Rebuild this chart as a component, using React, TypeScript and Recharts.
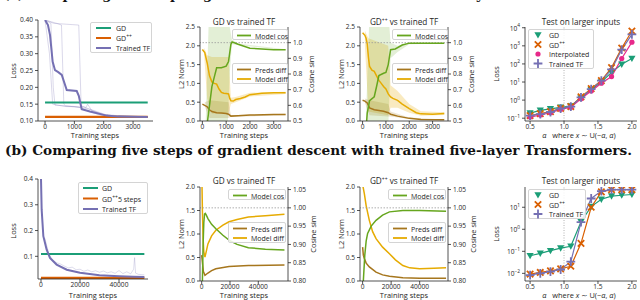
import React from "react";
import { ComposedChart, Line, Area, XAxis, YAxis, ReferenceLine } from "recharts";

const FONT = "'Open Sans', 'DejaVu Sans', sans-serif";
const INK = "#262626";
const C_GD = "#1b9e77";
const C_GDPP = "#d95f02";
const C_TF = "#7570b3";
const C_INT = "#e7298a";
const C_COS = "#66a61e";
const C_MDIFF = "#e6ab02";
const C_PDIFF = "#a6761d";

// ---------- (a) one step GD vs one-layer TF: loss ----------
const lineStepsA = [0, 3500];
const gdLossA = [0.155, 0.155];
const gdppLossA = [0.112, 0.112];
const tfStepsA = [0, 100, 170, 260, 340, 450, 570, 740, 1080, 1150, 1250, 1530, 2100, 2500, 3500];
const tfLossA = [0.4, 0.385, 0.355, 0.276, 0.251, 0.245, 0.237, 0.192, 0.189, 0.175, 0.135, 0.128, 0.116, 0.113, 0.112];
const run1Steps = [0, 200, 280, 340, 1000, 1500, 2000, 3500];
const run1Loss = [0.4, 0.39, 0.2, 0.147, 0.143, 0.135, 0.118, 0.112];
const run2Steps = [0, 400, 560, 640, 700, 1200, 1500, 2000, 3500];
const run2Loss = [0.4, 0.39, 0.385, 0.15, 0.145, 0.14, 0.128, 0.115, 0.112];
const run3Steps = [0, 300, 1150, 1230, 1400, 1450, 1600, 2000, 3500];
const run3Loss = [0.4, 0.39, 0.385, 0.145, 0.14, 0.15, 0.13, 0.118, 0.112];
const run4Steps = [0, 150, 260, 700, 1300, 1700, 2200, 3500];
const run4Loss = [0.4, 0.3, 0.15, 0.143, 0.142, 0.13, 0.115, 0.112];

// GD vs trained TF (a)
const mdiffStepsG = [0, 100, 200, 300, 400, 500, 600, 700, 800, 900, 1000, 1100, 1150, 1200, 1300, 1400, 1600, 1800, 2000, 2500, 3000, 3500];
const mdiffG = [1.9, 1.82, 1.55, 1.2, 1.04, 1.0, 0.98, 0.85, 0.76, 0.74, 0.73, 0.72, 0.6, 0.54, 0.53, 0.57, 0.6, 0.64, 0.7, 0.74, 0.75, 0.75];
const pdiffStepsG = [0, 200, 300, 400, 600, 800, 1000, 1100, 1200, 1500, 2000, 3000, 3500];
const pdiffG = [0.45, 0.38, 0.3, 0.25, 0.22, 0.21, 0.2, 0.18, 0.13, 0.14, 0.16, 0.17, 0.17];
const cosStepsG = [0, 200, 300, 400, 500, 600, 800, 1000, 1100, 1200, 1250, 1500, 2000, 2500, 3000, 3500];
const cosG = [0.3, 0.48, 0.6, 0.72, 0.78, 0.84, 0.84, 0.85, 0.88, 0.99, 1.005, 0.99, 0.965, 0.96, 0.955, 0.955];
const cosBandStepsG = [140, 280, 1060, 1150, 1240, 1500, 3500];
const cosLoG = [0.45, 0.45, 0.45, 0.8, 0.99, 0.985, 0.952];
const cosHiG = [0.5, 1.2, 1.2, 1.1, 1.02, 0.995, 0.958];
const mdiffBandStepsG = [80, 200, 400, 1100, 1200, 1400, 2000, 3500];
const mdiffLoG = [1.7, 0.6, 0.2, 0.2, 0.45, 0.5, 0.65, 0.72];
const mdiffHiG = [1.95, 1.75, 1.7, 1.7, 0.62, 0.64, 0.75, 0.78];
const pdiffBandStepsG = [100, 300, 1100, 1200, 3500];
const pdiffLoG = [0.38, 0.08, 0.08, 0.11, 0.15];
const pdiffHiG = [0.5, 0.55, 0.5, 0.15, 0.19];

// GD++ vs trained TF (a)
const mdiffStepsP = [0, 100, 150, 200, 250, 300, 400, 500, 600, 700, 800, 900, 1000, 1100, 1200, 1300, 1500, 1700, 2000, 2300, 2500, 3000, 3500];
const mdiffP = [2.35, 2.28, 2.2, 2.05, 1.7, 1.45, 1.35, 1.32, 1.2, 1.08, 1.0, 0.92, 0.85, 0.72, 0.64, 0.6, 0.55, 0.45, 0.33, 0.22, 0.19, 0.18, 0.2];
const pdiffStepsP = [0, 100, 200, 300, 500, 700, 900, 1100, 1200, 1500, 2000, 2500, 3500];
const pdiffP = [0.55, 0.53, 0.48, 0.35, 0.3, 0.28, 0.26, 0.22, 0.18, 0.13, 0.07, 0.04, 0.035];
const cosStepsP = [0, 150, 200, 300, 500, 600, 700, 900, 1000, 1100, 1200, 1400, 1700, 2000, 3500];
const cosP = [0.3, 0.45, 0.55, 0.63, 0.655, 0.72, 0.79, 0.805, 0.81, 0.86, 0.955, 0.96, 0.985, 0.997, 0.997];
const cosBandStepsP = [150, 300, 1100, 1200, 1500, 2000, 3500];
const cosLoP = [0.45, 0.45, 0.45, 0.9, 0.94, 0.99, 0.994];
const cosHiP = [0.55, 1.2, 1.2, 1.0, 0.98, 1.0, 1.0];
const mdiffBandStepsP = [100, 250, 1100, 1200, 1500, 2000, 2500, 3500];
const mdiffLoP = [2.0, 0.25, 0.15, 0.35, 0.35, 0.22, 0.14, 0.16];
const mdiffHiP = [2.4, 2.2, 2.0, 0.95, 0.8, 0.45, 0.26, 0.23];
const pdiffBandStepsP = [100, 300, 1100, 1200, 2000, 3500];
const pdiffLoP = [0.48, 0.15, 0.12, 0.12, 0.05, 0.03];
const pdiffHiP = [0.6, 0.55, 0.45, 0.25, 0.09, 0.04];

// test on larger inputs
const alphas = [0.5, 0.65, 0.8, 0.95, 1.1, 1.25, 1.4, 1.55, 1.7, 1.85, 2.0];
const gdTestA = [0.19, 0.27, 0.33, 0.4, 0.47, 1.3, 3.7, 10, 34, 95, 200];
const gdppTestA = [0.14, 0.18, 0.23, 0.35, 0.44, 1.5, 4.3, 12, 63, 760, 6600];
const interpTestA = [0.115, 0.15, 0.2, 0.31, 0.4, 1.2, 3.2, 8.6, 20, 200, 1600];
const tfTestA = [0.14, 0.17, 0.22, 0.34, 0.44, 1.4, 4.0, 12, 50, 620, 4300];

// ---------- (b) five steps GD vs five-layer TF ----------
const lineStepsB = [0, 53000];
const gdLossB = [0.109, 0.109];
const gdppLossB = [0.016, 0.016];
const tfStepsB = [0, 340, 1200, 2900, 4600, 8000, 13200, 20000, 30000, 40000, 47300, 53000];
const tfLossB = [0.4, 0.281, 0.178, 0.126, 0.094, 0.068, 0.048, 0.036, 0.027, 0.023, 0.021, 0.02];
const noiseStepsB = [2000, 4000, 6000, 8000, 10000, 12000, 14000, 16000, 18000, 20000, 22000, 24000, 26000, 28000, 30000, 32000, 34000, 36000, 38000, 40000, 42000, 44000, 46000, 47500, 48000, 48500, 50000, 53000];
const noiseLossB = [0.17, 0.11, 0.085, 0.075, 0.07, 0.062, 0.055, 0.058, 0.048, 0.05, 0.042, 0.047, 0.04, 0.044, 0.038, 0.043, 0.036, 0.04, 0.034, 0.045, 0.033, 0.04, 0.032, 0.05, 0.095, 0.035, 0.03, 0.028];

const mdiffStepsG5 = [0, 500, 1000, 1500, 2300, 3000, 4400, 7000, 10000, 15000, 19300, 25000, 33000, 45000, 58500];
const mdiffG5 = [2.4, 1.5, 0.9, 0.62, 0.51, 0.6, 0.79, 0.96, 1.08, 1.19, 1.26, 1.31, 1.36, 1.39, 1.42];
const pdiffStepsG5 = [0, 500, 1200, 2300, 4400, 7000, 10000, 19300, 33000, 58500];
const pdiffG5 = [0.55, 0.4, 0.2, 0.12, 0.17, 0.22, 0.26, 0.31, 0.33, 0.34];
const cosStepsG5 = [0, 500, 1000, 1500, 2000, 2500, 3000, 4500, 7000, 10000, 15000, 20000, 25000, 33000, 45000, 58500];
const cosG5 = [0.7, 0.8, 0.9, 0.96, 0.983, 0.985, 0.982, 0.97, 0.955, 0.943, 0.925, 0.91, 0.9, 0.891, 0.887, 0.885];

const mdiffStepsP5 = [0, 1200, 2500, 4700, 7000, 9400, 14000, 18800, 23000, 28200, 33000, 40000, 50000, 58500];
const mdiffP5 = [2.05, 1.86, 1.6, 1.29, 1.05, 0.9, 0.72, 0.58, 0.45, 0.33, 0.28, 0.26, 0.27, 0.28];
const pdiffStepsP5 = [0, 500, 1200, 2500, 4700, 9400, 14000, 18800, 28200, 40000, 58500];
const pdiffP5 = [0.72, 0.55, 0.48, 0.38, 0.3, 0.19, 0.13, 0.1, 0.07, 0.06, 0.06];
const cosStepsP5 = [0, 500, 1500, 2500, 3500, 6000, 9400, 14000, 18800, 28200, 40000, 58500];
const cosP5 = [0.75, 0.8, 0.87, 0.91, 0.93, 0.95, 0.966, 0.98, 0.989, 0.993, 0.993, 0.991];

const gdTestB = [0.063, 0.081, 0.107, 0.14, 0.17, 2.2, 10.7, 23, 32, 35, 38];
const gdppTestB = [0.0093, 0.011, 0.013, 0.016, 0.021, 0.23, 10, 50, 63, 63, 63];
const tfTestB = [0.0084, 0.01, 0.012, 0.015, 0.034, 2.1, 25, 54, 63, 63, 63];

const pts = (xs: number[], ys: number[]) => xs.map((x, i) => ({ x, y: ys[i] }));
const band = (xs: number[], lo: number[], hi: number[]) => xs.map((x, i) => ({ x, y: [lo[i], hi[i]] }));

type Rect = { l: number; t: number; r: number; b: number };
const LW = 30;
const RW = 22;
const XH = 14;
const MT = 4;

const P1T: Rect = { l: 38, t: 20, r: 153, b: 121 };
const P2T: Rect = { l: 200, t: 27, r: 288, b: 121 };
const P3T: Rect = { l: 360, t: 27, r: 448, b: 121 };
const P4T: Rect = { l: 525, t: 27, r: 637, b: 121 };
const P1B: Rect = { l: 38, t: 179, r: 148, b: 279 };
const P2B: Rect = { l: 200, t: 187, r: 288, b: 281 };
const P3B: Rect = { l: 360, t: 187, r: 448, b: 281 };
const P4B: Rect = { l: 525, t: 187, r: 637, b: 281 };

const AX = { stroke: INK, strokeWidth: 0.8 };
const TICK = { fontSize: 6.6, fill: INK, fontFamily: FONT };

function Frame({ rect, twin, children }: { rect: Rect; twin?: boolean; children: React.ReactNode }) {
  const rw = twin ? RW : 3;
  const width = rect.r - rect.l + LW + rw;
  const height = rect.b - rect.t + MT + XH;
  return (
    <div style={{ position: "absolute", left: rect.l - LW, top: rect.t - MT }}>
      <ComposedChart width={width} height={height} margin={{ top: MT, right: twin ? 0 : rw, bottom: 0, left: 0 }}>
        {children}
      </ComposedChart>
    </div>
  );
}

function Txt({ x, y, rot, size = 7.4, children }: { x: number; y: number; rot?: number; size?: number; children: React.ReactNode }) {
  return (
    <div
      style={{
        position: "absolute",
        left: x,
        top: y,
        transform: `translate(-50%, -50%)${rot ? ` rotate(${rot}deg)` : ""}`,
        fontSize: size,
        lineHeight: 1,
        whiteSpace: "nowrap",
      }}
    >
      {children}
    </div>
  );
}

const PP = () => <span style={{ fontSize: 5, position: "relative", top: -3 }}>++</span>;

type Mark = "line" | "tri" | "x" | "dot" | "plus";

function shape(kind: Mark, cx: number, cy: number, color: string, key?: any) {
  if (kind === "tri") return <path key={key} d={`M${cx - 3.6},${cy - 2.8}L${cx + 3.6},${cy - 2.8}L${cx},${cy + 3.6}Z`} fill={color} />;
  if (kind === "x") return <path key={key} d={`M${cx - 3.2},${cy - 3.2}L${cx + 3.2},${cy + 3.2}M${cx - 3.2},${cy + 3.2}L${cx + 3.2},${cy - 3.2}`} stroke={color} strokeWidth={1.8} />;
  if (kind === "plus") return <path key={key} d={`M${cx - 4.4},${cy}L${cx + 4.4},${cy}M${cx},${cy - 4.4}L${cx},${cy + 4.4}`} stroke={color} strokeWidth={1.8} />;
  return <circle key={key} cx={cx} cy={cy} r={2.6} fill={color} />;
}

const dotOf = (kind: Mark, color: string) => (p: any) => shape(kind, p.cx, p.cy, color, `d${p.index}`);

type Item = { label: React.ReactNode; color: string; mark: Mark; lw?: number };

function Leg({ x, y, w, h, items, rows, mx, tx }: { x: number; y: number; w: number; h: number; items: Item[]; rows: number[]; mx: [number, number]; tx: number }) {
  return (
    <div style={{ position: "absolute", left: x, top: y, width: w, height: h, border: "0.8px solid #d4d4d4", borderRadius: 2, background: "rgba(255,255,255,0.85)", boxSizing: "border-box" }}>
      <svg width={w} height={h} style={{ position: "absolute", left: 0, top: 0 }}>
        {items.map((it, i) =>
          it.mark === "line" ? (
            <line key={i} x1={mx[0]} x2={mx[1]} y1={rows[i]} y2={rows[i]} stroke={it.color} strokeWidth={it.lw ?? 2} />
          ) : (
            shape(it.mark, (mx[0] + mx[1]) / 2, rows[i], it.color, i)
          )
        )}
      </svg>
      {items.map((it, i) => (
        <div key={i} style={{ position: "absolute", left: tx, top: rows[i], transform: "translateY(-50%)", fontSize: 7, lineHeight: 1, whiteSpace: "nowrap" }}>
          {it.label}
        </div>
      ))}
    </div>
  );
}

const LogTick = (props: any) => {
  const { x, y, payload } = props;
  const e = Math.round(Math.log10(payload.value));
  return (
    <text x={x} y={y} dy={3} textAnchor="end" fontSize={6.6} fill={INK} fontFamily={FONT}>
      10
      <tspan dy={-3.5} fontSize={4.8}>
        {e < 0 ? `\u2212${-e}` : `${e}`}
      </tspan>
    </text>
  );
};

const f1 = (v: number) => v.toFixed(1);
const f2 = (v: number) => v.toFixed(2);
const xAxisProps = { type: "number" as const, dataKey: "x", allowDataOverflow: true, height: XH, tick: TICK, tickSize: 3, tickMargin: 0, axisLine: AX, tickLine: AX, interval: 0 as const };
const yAxisProps = { type: "number" as const, allowDataOverflow: true, tick: TICK, tickSize: 3, tickMargin: 2, axisLine: AX, tickLine: AX, interval: 0 as const };

function twinChildren(opts: {
  xDomain: [number, number];
  xTicks: number[];
  lDomain: [number, number];
  lTicks: number[];
  rDomain: [number, number];
  rTicks: number[];
  rFmt: (v: number) => string;
  mdiff: any[];
  pdiff: any[];
  cos: any[];
  mBand?: any[];
  pBand?: any[];
  cBand?: any[];
}) {
  const els: React.ReactNode[] = [
    <XAxis key="x" {...xAxisProps} domain={opts.xDomain} ticks={opts.xTicks} />,
    <YAxis key="yl" yAxisId="l" {...yAxisProps} width={LW} domain={opts.lDomain} ticks={opts.lTicks} tickFormatter={f1} />,
    <YAxis key="yr" yAxisId="r" orientation="right" {...yAxisProps} width={RW} domain={opts.rDomain} ticks={opts.rTicks} tickFormatter={opts.rFmt} />,
  ];
  if (opts.mBand) els.push(<Area key="mb" yAxisId="l" data={opts.mBand} dataKey="y" type="linear" stroke="none" fill={C_MDIFF} fillOpacity={0.25} isAnimationActive={false} />);
  if (opts.pBand) els.push(<Area key="pb" yAxisId="l" data={opts.pBand} dataKey="y" type="linear" stroke="none" fill={C_PDIFF} fillOpacity={0.2} isAnimationActive={false} />);
  els.push(<Line key="pd" yAxisId="l" data={opts.pdiff} dataKey="y" stroke={C_PDIFF} strokeWidth={1.5} dot={false} isAnimationActive={false} />);
  els.push(<Line key="md" yAxisId="l" data={opts.mdiff} dataKey="y" stroke={C_MDIFF} strokeWidth={1.5} dot={false} isAnimationActive={false} />);
  if (opts.cBand) els.push(<Area key="cb" yAxisId="r" data={opts.cBand} dataKey="y" type="linear" stroke="none" fill={C_COS} fillOpacity={0.18} isAnimationActive={false} />);
  els.push(<ReferenceLine key="one" yAxisId="r" y={1} stroke="#9a9a9a" strokeWidth={0.8} strokeDasharray="1.5 1.5" />);
  els.push(<Line key="cs" yAxisId="r" data={opts.cos} dataKey="y" stroke={C_COS} strokeWidth={1.5} dot={false} isAnimationActive={false} />);
  return els;
}

const diffItems: Item[] = [
  { label: "Preds diff", color: C_PDIFF, mark: "line", lw: 1.8 },
  { label: "Model diff", color: C_MDIFF, mark: "line", lw: 1.8 },
];
const cosItems: Item[] = [{ label: "Model cos", color: C_COS, mark: "line", lw: 1.8 }];

const TS = 8.2; // title size

export default function App() {
  const stepTicksA = [0, 1000, 2000, 3000];
  const stepTicksB = [0, 20000, 40000];
  return (
    <div style={{ position: "fixed", left: 0, top: 0, width: 640, height: 300, background: "#fff", overflow: "hidden", fontFamily: FONT, color: INK }}>
      <svg width={640} height={300} style={{ position: "absolute", left: 0, top: 0 }}>
        <text x={3} y={-1} fontFamily="'DejaVu Serif', serif" fontWeight="bold" fontSize={12.5} fill="#111" textLength={606} lengthAdjust="spacingAndGlyphs">
          (a) Comparing one step of gradient descent with trained one-layer Transformers.
        </text>
        <text x={5} y={155} fontFamily="'DejaVu Serif', serif" fontWeight="bold" fontSize={12.5} fill="#111" textLength={627} lengthAdjust="spacingAndGlyphs">
          (b) Comparing five steps of gradient descent with trained five-layer Transformers.
        </text>
      </svg>

      {/* ---------- row (a) ---------- */}
      <Frame rect={P1T}>
        <XAxis {...xAxisProps} domain={[-240, 3680]} ticks={stepTicksA} />
        <YAxis {...yAxisProps} width={LW} domain={[0.1, 0.4]} ticks={[0.1, 0.15, 0.2, 0.25, 0.3, 0.35, 0.4]} tickFormatter={f2} />
        <Line data={pts(run1Steps, run1Loss)} dataKey="y" stroke={C_TF} strokeOpacity={0.3} strokeWidth={0.9} dot={false} isAnimationActive={false} />
        <Line data={pts(run2Steps, run2Loss)} dataKey="y" stroke={C_TF} strokeOpacity={0.3} strokeWidth={0.9} dot={false} isAnimationActive={false} />
        <Line data={pts(run3Steps, run3Loss)} dataKey="y" stroke={C_TF} strokeOpacity={0.3} strokeWidth={0.9} dot={false} isAnimationActive={false} />
        <Line data={pts(run4Steps, run4Loss)} dataKey="y" stroke={C_TF} strokeOpacity={0.3} strokeWidth={0.9} dot={false} isAnimationActive={false} />
        <Line data={pts(lineStepsA, gdLossA)} dataKey="y" stroke={C_GD} strokeWidth={2} dot={false} isAnimationActive={false} />
        <Line data={pts(lineStepsA, gdppLossA)} dataKey="y" stroke={C_GDPP} strokeWidth={2.2} dot={false} isAnimationActive={false} />
        <Line data={pts(tfStepsA, tfLossA)} dataKey="y" stroke={C_TF} strokeWidth={2} dot={false} isAnimationActive={false} />
      </Frame>
      <Txt x={14} y={71} rot={-90}>Loss</Txt>
      <Txt x={95} y={136}>Training steps</Txt>
      <Leg
        x={90}
        y={22}
        w={62}
        h={31}
        rows={[5, 15, 25]}
        mx={[5, 20]}
        tx={25}
        items={[
          { label: "GD", color: C_GD, mark: "line" },
          { label: <>GD<PP /></>, color: C_GDPP, mark: "line" },
          { label: "Trained TF", color: C_TF, mark: "line" },
        ]}
      />

      <Frame rect={P2T} twin>
        {twinChildren({
          xDomain: [-100, 3600],
          xTicks: stepTicksA,
          lDomain: [0, 2.5],
          lTicks: [0, 0.5, 1, 1.5, 2, 2.5],
          rDomain: [0.5, 1.1],
          rTicks: [0.5, 0.6, 0.7, 0.8, 0.9, 1.0],
          rFmt: f1,
          mdiff: pts(mdiffStepsG, mdiffG),
          pdiff: pts(pdiffStepsG, pdiffG),
          cos: pts(cosStepsG, cosG),
          mBand: band(mdiffBandStepsG, mdiffLoG, mdiffHiG),
          pBand: band(pdiffBandStepsG, pdiffLoG, pdiffHiG),
          cBand: band(cosBandStepsG, cosLoG, cosHiG),
        })}
      </Frame>
      <Txt x={244} y={21.5} size={TS}>GD vs trained TF</Txt>
      <Txt x={182} y={74} rot={-90}>L2 Norm</Txt>
      <Txt x={312} y={74} rot={-90}>Cosine sim</Txt>
      <Txt x={244} y={136}>Training steps</Txt>
      <Leg x={232} y={29} w={56} h={11} rows={[5.5]} mx={[4, 18]} tx={22} items={cosItems} />
      <Leg x={232} y={63} w={56} h={21} rows={[5.5, 15]} mx={[4, 18]} tx={22} items={diffItems} />

      <Frame rect={P3T} twin>
        {twinChildren({
          xDomain: [-110, 3660],
          xTicks: stepTicksA,
          lDomain: [0, 2.5],
          lTicks: [0, 0.5, 1, 1.5, 2, 2.5],
          rDomain: [0.5, 1.1],
          rTicks: [0.5, 0.6, 0.7, 0.8, 0.9, 1.0],
          rFmt: f1,
          mdiff: pts(mdiffStepsP, mdiffP),
          pdiff: pts(pdiffStepsP, pdiffP),
          cos: pts(cosStepsP, cosP),
          mBand: band(mdiffBandStepsP, mdiffLoP, mdiffHiP),
          pBand: band(pdiffBandStepsP, pdiffLoP, pdiffHiP),
          cBand: band(cosBandStepsP, cosLoP, cosHiP),
        })}
      </Frame>
      <Txt x={404} y={21.5} size={TS}>GD<PP /> vs trained TF</Txt>
      <Txt x={342} y={74} rot={-90}>L2 Norm</Txt>
      <Txt x={472} y={74} rot={-90}>Cosine sim</Txt>
      <Txt x={404} y={136}>Training steps</Txt>
      <Leg x={392} y={29} w={56} h={11} rows={[5.5]} mx={[4, 18]} tx={22} items={cosItems} />
      <Leg x={392} y={63} w={56} h={21} rows={[5.5, 15]} mx={[4, 18]} tx={22} items={diffItems} />

      <Frame rect={P4T}>
        <XAxis {...xAxisProps} domain={[0.425, 2.075]} ticks={[0.5, 1, 1.5, 2]} tickFormatter={f1} />
        <YAxis {...yAxisProps} width={LW} scale="log" domain={[0.07, 11000]} ticks={[0.1, 1, 10, 100, 1000, 10000]} tick={<LogTick />} />
        <ReferenceLine x={1} stroke="#a0a0a0" strokeWidth={0.8} strokeDasharray="1 1.5" />
        <Line data={pts(alphas, gdTestA)} dataKey="y" stroke={C_GD} strokeWidth={1.2} dot={dotOf("tri", C_GD)} isAnimationActive={false} />
        <Line data={pts(alphas, gdppTestA)} dataKey="y" stroke={C_GDPP} strokeWidth={1.2} dot={dotOf("x", C_GDPP)} isAnimationActive={false} />
        <Line data={pts(alphas, interpTestA)} dataKey="y" stroke={C_INT} strokeWidth={1.2} dot={dotOf("dot", C_INT)} isAnimationActive={false} />
        <Line data={pts(alphas, tfTestA)} dataKey="y" stroke={C_TF} strokeWidth={1.2} dot={dotOf("plus", C_TF)} isAnimationActive={false} />
      </Frame>
      <Txt x={581} y={21.5} size={TS}>Test on larger inputs</Txt>
      <Txt x={497} y={74} rot={-90}>Loss</Txt>
      <Txt x={579} y={136}>
        <i>α</i>&nbsp;&nbsp; where <i>x</i> ∼ U(−<i>α</i>, <i>α</i>)
      </Txt>
      <Leg
        x={528}
        y={29}
        w={66}
        h={40}
        rows={[5, 14.5, 24, 33.5]}
        mx={[4, 14]}
        tx={20}
        items={[
          { label: "GD", color: C_GD, mark: "tri" },
          { label: <>GD<PP /></>, color: C_GDPP, mark: "x" },
          { label: "Interpolated", color: C_INT, mark: "dot" },
          { label: "Trained TF", color: C_TF, mark: "plus" },
        ]}
      />

      {/* ---------- row (b) ---------- */}
      <Frame rect={P1B}>
        <XAxis {...xAxisProps} domain={[-1540, 54870]} ticks={stepTicksB} />
        <YAxis {...yAxisProps} width={LW} domain={[0.012, 0.4]} ticks={[0.1, 0.2, 0.3, 0.4]} tickFormatter={f1} />
        <Line data={pts(noiseStepsB, noiseLossB)} dataKey="y" stroke={C_TF} strokeOpacity={0.3} strokeWidth={0.8} dot={false} isAnimationActive={false} />
        <Line data={pts(lineStepsB, gdLossB)} dataKey="y" stroke={C_GD} strokeWidth={2} dot={false} isAnimationActive={false} />
        <Line data={pts(lineStepsB, gdppLossB)} dataKey="y" stroke={C_GDPP} strokeWidth={2.2} dot={false} isAnimationActive={false} />
        <Line data={pts(tfStepsB, tfLossB)} dataKey="y" stroke={C_TF} strokeWidth={2} dot={false} isAnimationActive={false} />
      </Frame>
      <Txt x={14} y={231} rot={-90}>Loss</Txt>
      <Txt x={93} y={295.5}>Training steps</Txt>
      <Leg
        x={78}
        y={182}
        w={70}
        h={32}
        rows={[5, 15.5, 26]}
        mx={[4, 19]}
        tx={23}
        items={[
          { label: "GD", color: C_GD, mark: "line" },
          { label: <>GD<PP />5 steps</>, color: C_GDPP, mark: "line" },
          { label: "Trained TF", color: C_TF, mark: "line" },
        ]}
      />

      <Frame rect={P2B} twin>
        {twinChildren({
          xDomain: [-1200, 61000],
          xTicks: stepTicksB,
          lDomain: [0, 2],
          lTicks: [0, 0.5, 1, 1.5, 2],
          rDomain: [0.8, 1.057],
          rTicks: [0.8, 0.85, 0.9, 0.95, 1.0, 1.05],
          rFmt: f2,
          mdiff: pts(mdiffStepsG5, mdiffG5),
          pdiff: pts(pdiffStepsG5, pdiffG5),
          cos: pts(cosStepsG5, cosG5),
        })}
      </Frame>
      <Txt x={244} y={181} size={TS}>GD vs trained TF</Txt>
      <Txt x={182} y={234} rot={-90}>L2 Norm</Txt>
      <Txt x={314} y={234} rot={-90}>Cosine sim</Txt>
      <Txt x={244} y={295.5}>Training steps</Txt>
      <Leg x={228} y={189} w={58} h={11} rows={[5.5]} mx={[4, 18]} tx={22} items={cosItems} />
      <Leg x={228} y={222} w={58} h={21} rows={[5.5, 15]} mx={[4, 18]} tx={22} items={diffItems} />

      <Frame rect={P3B} twin>
        {twinChildren({
          xDomain: [-1840, 59850],
          xTicks: stepTicksB,
          lDomain: [0, 2],
          lTicks: [0, 0.5, 1, 1.5, 2],
          rDomain: [0.8, 1.057],
          rTicks: [0.8, 0.85, 0.9, 0.95, 1.0, 1.05],
          rFmt: f2,
          mdiff: pts(mdiffStepsP5, mdiffP5),
          pdiff: pts(pdiffStepsP5, pdiffP5),
          cos: pts(cosStepsP5, cosP5),
        })}
      </Frame>
      <Txt x={404} y={181} size={TS}>GD<PP /> vs trained TF</Txt>
      <Txt x={342} y={234} rot={-90}>L2 Norm</Txt>
      <Txt x={474} y={234} rot={-90}>Cosine sim</Txt>
      <Txt x={404} y={295.5}>Training steps</Txt>
      <Leg x={388} y={189} w={58} h={11} rows={[5.5]} mx={[4, 18]} tx={22} items={cosItems} />
      <Leg x={388} y={222} w={58} h={21} rows={[5.5, 15]} mx={[4, 18]} tx={22} items={diffItems} />

      <Frame rect={P4B}>
        <XAxis {...xAxisProps} domain={[0.425, 2.075]} ticks={[0.5, 1, 1.5, 2]} tickFormatter={f1} />
        <YAxis {...yAxisProps} width={LW} scale="log" domain={[0.0045, 83]} ticks={[0.01, 0.1, 1, 10]} tick={<LogTick />} />
        <ReferenceLine x={1} stroke="#a0a0a0" strokeWidth={0.8} strokeDasharray="1 1.5" />
        <Line data={pts(alphas, gdTestB)} dataKey="y" stroke={C_GD} strokeWidth={1.2} dot={dotOf("tri", C_GD)} isAnimationActive={false} />
        <Line data={pts(alphas, gdppTestB)} dataKey="y" stroke={C_GDPP} strokeWidth={1.2} dot={dotOf("x", C_GDPP)} isAnimationActive={false} />
        <Line data={pts(alphas, tfTestB)} dataKey="y" stroke={C_TF} strokeWidth={1.2} dot={dotOf("plus", C_TF)} isAnimationActive={false} />
      </Frame>
      <Txt x={581} y={181} size={TS}>Test on larger inputs</Txt>
      <Txt x={497} y={234} rot={-90}>Loss</Txt>
      <Txt x={579} y={295.5}>
        <i>α</i>&nbsp;&nbsp; where <i>x</i> ∼ U(−<i>α</i>, <i>α</i>)
      </Txt>
      <Leg
        x={528}
        y={189}
        w={58}
        h={30}
        rows={[5, 14.5, 24]}
        mx={[4, 14]}
        tx={20}
        items={[
          { label: "GD", color: C_GD, mark: "tri" },
          { label: <>GD<PP /></>, color: C_GDPP, mark: "x" },
          { label: "Trained TF", color: C_TF, mark: "plus" },
        ]}
      />
    </div>
  );
}
